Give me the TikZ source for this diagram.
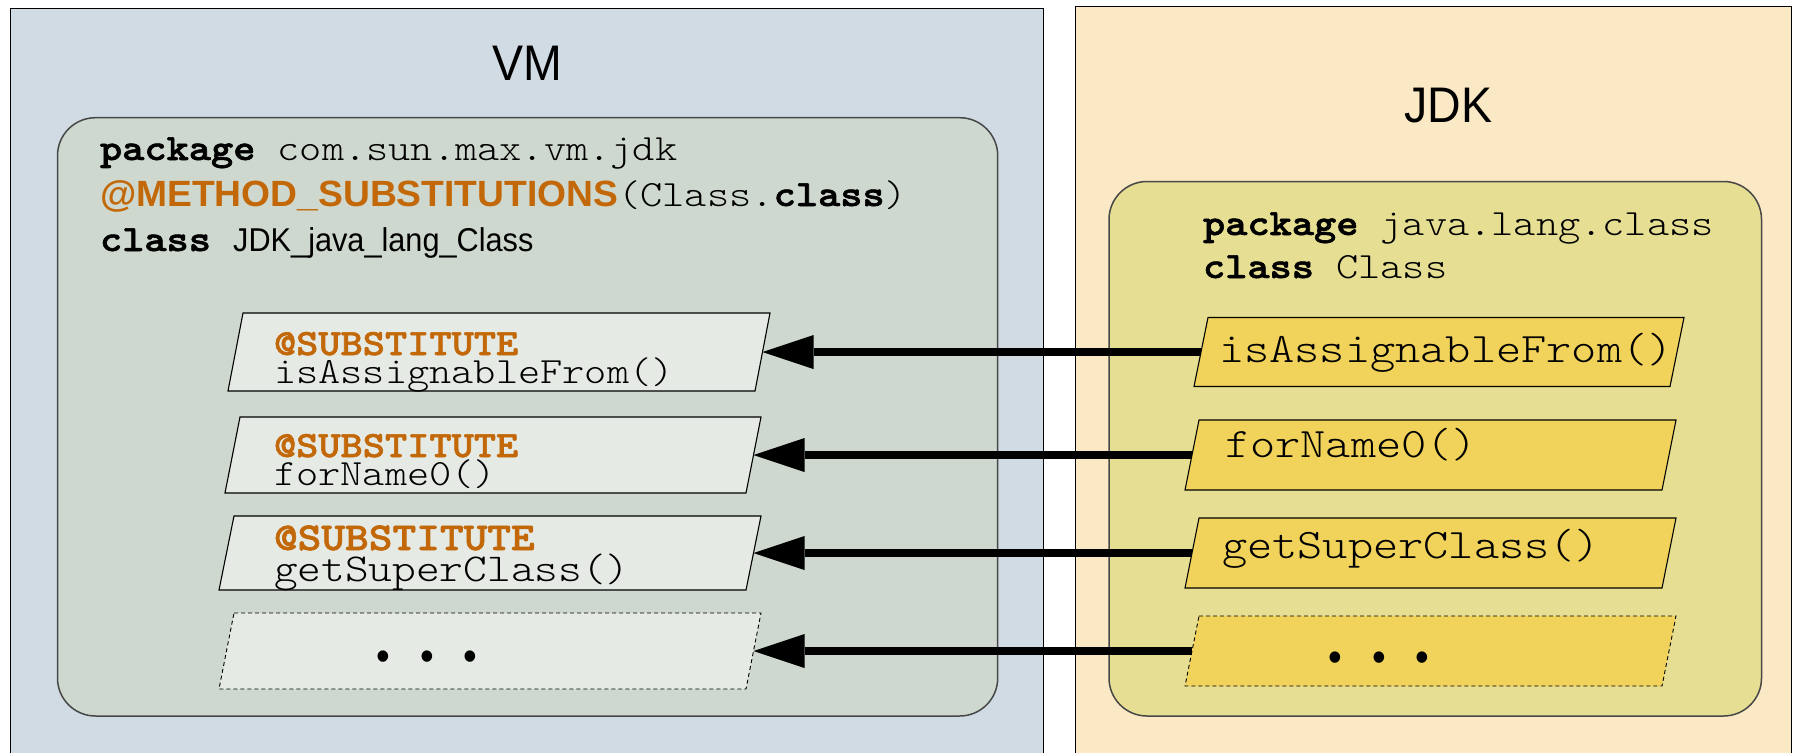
\documentclass[tikz,border=0pt]{standalone}
\usepackage{fontspec}
\usetikzlibrary{arrows.meta}

% Courier-like code font: Latin Modern Mono widened to 0.6em per character
\newfontfamily\codefont{lmmonolt10-regular.otf}[FakeStretch=1.143]
\newfontfamily\codefontbf{lmmonolt10-bold.otf}[FakeStretch=1.143, FakeBold=1.6]
\newfontfamily\headfont{Liberation Sans}[FakeStretch=0.93]
\newfontfamily\annofont{Liberation Sans}[FakeStretch=1.02]
\newfontfamily\namefont{Liberation Sans}[FakeStretch=0.93]
\newcommand\fsz[1]{\fontsize{#1}{#1}\selectfont}
% two stacked lines, baseline of the first one, fixed line distance
\newcommand\twolines[3]{\vtop{\lineskiplimit=-100pt\baselineskip=#1\hbox{#2}\hbox{#3}}}

\definecolor{vmpanel}{RGB}{209,219,228}
\definecolor{vminner}{RGB}{206,216,206}
\definecolor{vmslotfill}{RGB}{229,234,229}
\definecolor{jdkpanel}{RGB}{251,233,197}
\definecolor{jdkinner}{RGB}{230,222,147}
\definecolor{jdkslotfill}{RGB}{241,210,90}
\definecolor{anno}{RGB}{195,104,8}

\tikzset{
  panel/.style={draw=black, line width=1pt},
  container/.style={draw=black!72, line width=1.5pt, rounded corners=38pt},
  slotframe/.style={rectangle, inner sep=0pt, outer sep=0pt},
  slotline/.style={draw=black, line width=1.1pt},
  vmslot/.style={slotline, fill=vmslotfill},
  jdkslot/.style={slotline, fill=jdkslotfill},
  more/.style={dash pattern=on 4pt off 3pt, line width=0.9pt},
  txt/.style={anchor=base west, inner sep=0pt, outer sep=0pt},
  title/.style={anchor=base, inner sep=0pt, font=\headfont\fsz{50}},
  dots/.style={anchor=base, inner sep=0pt, font=\headfont\fsz{42}},
  conn/.style={line width=8.4pt,
    -{Triangle[length=51pt, width=34pt, line width=0pt]}},
}

% slanted method slot: name, look, centre, body width, height, half slant
\newcommand\slot[6]{%
  \node[slotframe, minimum width=#4, minimum height=#5] (#1) at #3 {};
  \path[#2] ([xshift=#6]#1.north west) -- ([xshift=#6]#1.north east)
    -- ([xshift=-#6]#1.south east) -- ([xshift=-#6]#1.south west) -- cycle;
}
\newcommand\subst{{\codefontbf\color{anno}@SUBSTITUTE}}

\begin{document}
\begin{tikzpicture}[x=1pt, y=-1pt]
\useasboundingbox (0,0) rectangle (1795,752);
\fill[white] (0,0) rectangle (1795,752);

% outer panels
\filldraw[panel, fill=vmpanel] (10.5,8.5) rectangle (1043,770);
\filldraw[panel, fill=jdkpanel] (1075.5,7) rectangle (1791.5,770);

\node[title] (vmtitle) at (527.5,80) {VM};
\node[title] (jdktitle) at (1448.5,122) {JDK};

% class containers
\filldraw[container, fill=vminner] (57.5,117.7) rectangle (997.7,716);
\filldraw[container, fill=jdkinner] (1109,181.5) rectangle (1761.5,716);

% VM class header
\node[txt, font=\codefont\fsz{37}] (vmpkg) at (100,160)
  {{\codefontbf package} com.sun.max.vm.jdk};
\node[txt, font=\codefont\fsz{37}] (vmanno) at (100,206)
  {{\annofont\bfseries\fsz{36.5}\color{anno}@METHOD\_SUBSTITUTIONS}(Class.{\codefontbf class})};
\node[txt, font=\codefont\fsz{37}] (vmcls) at (100,251)
  {{\codefontbf class }{\namefont\fsz{33}JDK\_java\_lang\_Class}};

% JDK class header
\node[txt, font=\codefont\fsz{37}] (jdkpkg) at (1203,235)
  {{\codefontbf package} java.lang.class};
\node[txt, font=\codefont\fsz{37}] (jdkcls) at (1203,278)
  {{\codefontbf class} Class};

% substituting methods
\slot{vm1}{vmslot}{(499,352)}{527}{78}{7.5pt}
\slot{vm2}{vmslot}{(493,455)}{521}{76}{7.5pt}
\slot{vm3}{vmslot}{(490,553)}{527}{74}{7.5pt}
\slot{vm4}{vmslot,more}{(490,651)}{527}{76}{7.5pt}

\node[txt, font=\codefont\fsz{37}] (vm1t) at (274,355)
  {\twolines{28pt}{\subst}{isAssignableFrom()}};
\node[txt, font=\codefont\fsz{37}] (vm2t) at (274,457)
  {\twolines{28pt}{\subst}{forName0()}};
\node[txt, font=\codefont\fsz{39.5}] (vm3t) at (274,550)
  {\twolines{31pt}{\subst}{getSuperClass()}};
\node[dots] (vm4d) at (427,670) {•\hspace{30pt}•\hspace{30pt}•};

% original methods
\slot{jdk1}{jdkslot}{(1439,352)}{476}{69}{7pt}
\slot{jdk2}{jdkslot}{(1430.5,455)}{477}{70}{7pt}
\slot{jdk3}{jdkslot}{(1430.5,553)}{477}{70}{7pt}
\slot{jdk4}{jdkslot,more}{(1430.5,651)}{477}{70}{7pt}

\node[txt, font=\codefont\fsz{42}] (jdk1t) at (1219,362) {isAssignableFrom()};
\node[txt, font=\codefont\fsz{42}] (jdk2t) at (1225,457) {forName0()};
\node[txt, font=\codefont\fsz{42}] (jdk3t) at (1222,558) {getSuperClass()};
\node[dots] (jdk4d) at (1379,671) {•\hspace{30pt}•\hspace{30pt}•};

% substitution arrows
\draw[conn] (jdk1.west) -- (vm1.east);
\draw[conn] (jdk2.west) -- (vm2.east);
\draw[conn] (jdk3.west) -- (vm3.east);
\draw[conn] (jdk4.west) -- (vm4.east);
\end{tikzpicture}
\end{document}
